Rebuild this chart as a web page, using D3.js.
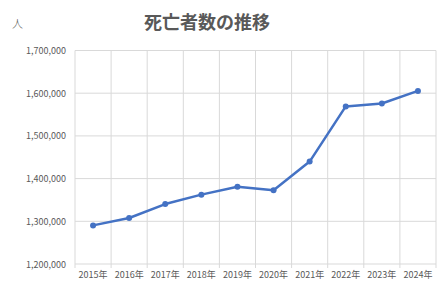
<!DOCTYPE html>
<html>
<head>
<meta charset="utf-8">
<script src="https://d3js.org/d3.v7.min.js"></script>
<style>
  body { margin: 0; background: #fff; }
  text { font-family: "Noto Sans CJK JP", sans-serif; fill: #595959; }
</style>
</head>
<body>
<svg id="chart" width="443" height="284"></svg>
<script>
var years = ["2015年", "2016年", "2017年", "2018年", "2019年", "2020年", "2021年", "2022年", "2023年", "2024年"];
var deaths = [1290444, 1307748, 1340397, 1362470, 1381093, 1372755, 1439856, 1569050, 1575936, 1605298];
var yTicks = [1200000, 1300000, 1400000, 1500000, 1600000, 1700000];

var svg = d3.select("#chart");
var plotLeft = 75, plotRight = 436, plotTop = 50.5, plotBottom = 264;

var x = d3.scaleBand().domain(years).range([plotLeft, plotRight]);
var y = d3.scaleLinear().domain([1200000, 1700000]).range([plotBottom, plotTop]);

/* gridlines */
svg.append("g").selectAll("line").data(yTicks).join("line")
  .attr("x1", plotLeft).attr("x2", plotRight)
  .attr("y1", d => y(d)).attr("y2", d => y(d))
  .attr("stroke", "#d9d9d9").attr("stroke-width", 1);

var bounds = years.map(d => x(d)).concat([plotRight]);
svg.append("g").selectAll("line").data(bounds).join("line")
  .attr("x1", d => d).attr("x2", d => d)
  .attr("y1", plotTop).attr("y2", plotBottom + 4)
  .attr("stroke", "#d9d9d9").attr("stroke-width", 1);

/* y labels */
svg.append("g").selectAll("text").data(yTicks).join("text")
  .attr("x", plotLeft - 9).attr("y", d => y(d) + 3.5)
  .attr("text-anchor", "end").style("font-size", "9px")
  .text(d3.format(","));

/* x labels */
svg.append("g").selectAll("text").data(years).join("text")
  .attr("x", d => x(d) + x.bandwidth() / 2).attr("y", 278)
  .attr("text-anchor", "middle").style("font-size", "9px")
  .text(d => d);

/* line */
var line = d3.line().x((d, i) => x(years[i]) + x.bandwidth() / 2).y(d => y(d));
svg.append("path").datum(deaths)
  .attr("d", line).attr("fill", "none")
  .attr("stroke", "#4472c4").attr("stroke-width", 2.5)
  .attr("stroke-linejoin", "round");

svg.append("g").selectAll("circle").data(deaths).join("circle")
  .attr("cx", (d, i) => x(years[i]) + x.bandwidth() / 2)
  .attr("cy", d => y(d)).attr("r", 3)
  .attr("fill", "#4472c4");

/* titles */
svg.append("text").attr("x", 207).attr("y", 29)
  .attr("text-anchor", "middle").style("font-size", "18px").style("font-weight", "bold")
  .text("死亡者数の推移");
svg.append("text").attr("x", 12).attr("y", 28)
  .style("font-size", "11px").style("font-weight", "300").text("人");
</script>
</body>
</html>
